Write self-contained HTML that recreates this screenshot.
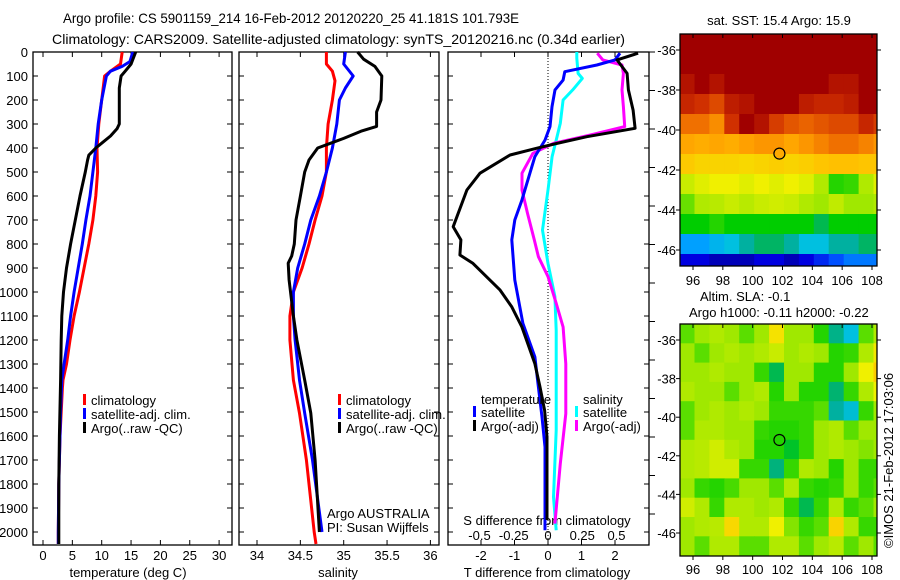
<!DOCTYPE html>
<html><head><meta charset="utf-8"><style>
html,body{margin:0;padding:0;background:#fff;}
svg{display:block;font-family:"Liberation Sans",Arial,sans-serif;}
text{font-size:13px;fill:#000;}
</style></head><body>
<svg id="chart" width="900" height="580" viewBox="0 0 900 580" xmlns="http://www.w3.org/2000/svg">
<rect width="900" height="580" fill="#fff"/>
<text x="63" y="23" textLength="456" lengthAdjust="spacingAndGlyphs" style="font-size:14px">Argo profile: CS 5901159_214 16-Feb-2012 20120220_25 41.181S 101.793E</text>
<text x="52" y="44" textLength="573" lengthAdjust="spacingAndGlyphs" style="font-size:14px">Climatology: CARS2009. Satellite-adjusted climatology: synTS_20120216.nc (0.34d earlier)</text>
<g id="p1"></g>
<g id="p2"></g>
<g id="p3"></g>
<g id="m1"></g>
<g id="m2"></g>
<text x="779" y="25" text-anchor="middle">sat. SST: 15.4  Argo: 15.9</text>
<text x="700" y="301">Altim. SLA: -0.1</text>
<text x="689" y="317">Argo h1000: -0.11 h2000: -0.22</text>
<text transform="translate(893,548) rotate(-90)">©IMOS 21-Feb-2012 17:03:06</text>
</svg>
<script>
// ---- data ----
const depthTicks=[0,100,200,300,400,500,600,700,800,900,1000,1100,1200,1300,1400,1500,1600,1700,1800,1900,2000];
const tempTicks=[0,5,10,15,20,25,30];
const salTicks=[34,34.5,35,35.5,36];
const dTTicks=[-2,-1,0,1,2];
const dSTicks=[-0.5,-0.25,0,0.25,0.5];
const dSTickLabels=["-0.5","-0.25","0","0.25","0.5"];
const lonTicks=[96,98,100,102,104,106,108];
const latTicks=[-36,-38,-40,-42,-44,-46];

const tClimD=[0,50,80,100,200,300,400,500,600,700,800,900,1000,1100,1200,1300,1367,1400,1500,1600,1700,1800,2000,2050];
const tClimV=[13.5,13.2,11.5,10.5,10,9.5,9.2,9.3,9.0,8.5,7.8,7.0,6.2,5.3,4.6,4.0,3.4,3.3,3.1,2.9,2.8,2.7,2.6,2.6];
const tSatD=[0,40,60,80,100,200,300,400,500,600,700,800,900,1000,1100,1200,1300,1367,1500,1600,1800,2000,2050];
const tSatV=[15.3,14.8,13.5,11.5,10.8,10.0,9.4,9.0,8.5,8.0,7.3,6.7,6.0,5.3,4.7,4.2,3.6,3.2,3.0,2.9,2.7,2.6,2.6];
const tArgoD=[0,50,80,100,150,200,300,320,350,380,400,430,450,500,600,700,800,900,1000,1100,1200,1367,1600,1800,2000,2050];
const tArgoV=[15.8,15,14,13.3,13,13,13,12.6,11.5,10,9.0,7.8,7.6,7.2,6.3,5.5,4.7,4.0,3.5,3.2,3.1,3.0,2.8,2.7,2.7,2.7];

const sClimD=[0,50,80,120,200,300,400,500,600,700,800,900,1000,1100,1200,1367,1505,1700,2000,2050];
const sClimV=[34.8,34.8,34.87,34.9,34.87,34.82,34.8,34.8,34.75,34.67,34.6,34.52,34.42,34.38,34.38,34.42,34.49,34.57,34.66,34.68];
const sSatD=[0,50,100,150,200,300,400,500,600,700,800,900,1000,1100,1200,1367,1505,1700,2000];
const sSatV=[35.02,35.0,35.11,35.02,34.95,34.92,34.87,34.8,34.72,34.62,34.55,34.47,34.42,34.42,34.44,34.49,34.55,34.64,34.75];
const sArgoD=[0,30,60,100,200,250,310,330,360,380,400,450,500,600,700,800,850,880,950,1100,1200,1367,1505,1700,2000];
const sArgoV=[35.16,35.23,35.36,35.44,35.43,35.38,35.38,35.2,35.0,34.85,34.7,34.6,34.55,34.5,34.45,34.43,34.4,34.36,34.37,34.42,34.46,34.55,34.62,34.67,34.72];

const dTArgoD=[5,33,89,158,242,318,353,381,401,429,505,575,728,783,846,881,992,1062,1146,1299,1396,1493,1604,1950];
const dTArgoV=[2.69,2.06,2.36,2.4,2.54,2.6,1.16,0.27,-0.33,-1.13,-2.03,-2.42,-2.83,-2.6,-2.63,-2.24,-1.43,-1.08,-0.78,-0.39,-0.24,-0.1,-0.03,-0.03];
const dTSatD=[5,33,54,82,117,158,228,311,367,436,505,617,700,783,950,1131,1271,1382,1521,1646,1993];
const dTSatV=[2.15,2.0,1.46,0.5,0.45,0.21,0.12,0.06,-0.09,-0.39,-0.54,-0.78,-0.99,-1.08,-0.99,-0.75,-0.39,-0.3,-0.18,-0.09,-0.09];
const dSArgoD=[5,33,54,89,158,228,311,346,381,422,505,575,672,783,853,936,1047,1146,1299,1507,1715,1965];
const dSArgoV=[0.36,0.4,0.54,0.55,0.54,0.55,0.56,0.31,0.04,-0.11,-0.19,-0.19,-0.15,-0.1,-0.07,0,0.06,0.11,0.13,0.13,0.09,0.05];
const dSSatD=[0,26,89,110,158,200,297,367,436,575,742,881,1019,1160,1576,1854,1993];
const dSSatV=[0.21,0.21,0.22,0.25,0.18,0.11,0.09,0.06,0.03,0,-0.04,0,0.05,0.06,0.06,0.04,0.06];

const sstLats=[-35.2,-36.2,-37.2,-38.2,-39.2,-40.2,-41.2,-42.2,-43.2,-44.2,-45.2,-46.2];
const sstLons=[95.1,96.1,97.1,98.1,99.1,100.1,101.1,102.1,103.1,104.1,105.1,106.1,107.1,108.1];
const sstGrid=[
[10,10,10,10,10,10,10,10,10,10,10,10,10,10],
[10,10,10,10,10,10,10,10,10,10,10,10,10,10],
[9.8,10,9.8,10,10,10,10,10,10,10,9.8,9.8,10,10],
[9.6,9.5,9.3,9.7,9.8,10,10,10,9.7,9.6,9.6,9.7,10,10],
[9,9,8.7,9.5,10,9.8,9.4,9.2,9.1,9.2,9.3,9.3,9.6,9.4],
[8.4,8.3,8.4,8.3,8.5,8.6,8.6,8.4,8.6,8.8,9,9,8.8,8.6],
[7.8,7.6,7.6,7.6,7.5,7.6,7.7,7.6,7.7,7.9,8,8,7.9,7.9],
[6.5,6.8,7,7,6.8,7,6.8,7,6.8,6.2,5.2,5.3,6.2,6.8],
[5.6,6.2,6.3,6.5,6.3,6.5,6.6,6.5,6.2,6,6.4,6,6,6.2],
[5,5,5.2,5,5,5,5,5,5,4.6,5,5,5,5],
[3,3,3.3,3.5,4,4.5,4.5,4,3.5,3.5,4,4,4.5,4.5],
[1,1,0.5,0.5,0.5,1,1,0.5,1,1.5,2,2.5,2.5,2.5]];
const slaLats=[-35.17,-36.17,-37.17,-38.17,-39.17,-40.17,-41.17,-42.17,-43.17,-44.17,-45.17,-46.17];
const slaLons=[95.1,96.1,97.1,98.1,99.1,100.1,101.1,102.1,103.1,104.1,105.1,106.1,107.1,108.1];
const slaGrid=[
[5.5,6,6.2,6,5.5,6,7.3,6,6,5.2,4.2,3.5,5.5,6.2],
[6,5.5,6,6.2,6,6.2,6.5,6,6.2,6,5.2,5.3,6.2,7.2],
[6,6,6.2,6,6,5.3,4.6,6,6,5.2,5.2,6,7,7.8],
[6.2,6,6,5.5,6,6.2,5.2,6,5.2,5.2,4.4,5.3,6.2,7],
[5.5,6,6.2,6,6.2,6,5.3,5.3,5.3,5.5,4,3.6,5.3,6],
[5.5,6.2,6.2,6,6,5.3,5.2,5.2,5.3,6,6.2,5.5,6,6],
[6.2,6.3,6.6,6.2,6,5.2,5.2,4.8,5.3,6,6.2,6,5.8,6],
[6.2,6.3,6.6,6.6,5.3,5.3,4.3,5.3,6.2,6,5.2,6,5.3,5.3],
[6,5.3,5.2,5.4,6,6,5.5,6.2,5.3,5.2,5.3,6,5.3,5.5],
[6.6,6.2,5.3,6.2,6.2,6,6.2,5.3,4.6,5.3,6.2,5.3,5.5,6],
[6,6.2,6.3,7.5,6.2,6.2,7,5.8,5.3,5.5,7.6,6.2,5.3,5.3],
[6,5.5,6.2,6.2,5.5,5.5,6.2,6.2,5.5,6,6.3,5.5,6,5.5]];
const argoLon=101.793, argoLat=-41.181;

// ---- helpers ----
const NS="http://www.w3.org/2000/svg";
function mk(parent,tag,attrs){const e=document.createElementNS(NS,tag);for(const k in attrs)e.setAttribute(k,attrs[k]);parent.appendChild(e);return e;}
const yD=d=>52+d*0.24;
const xT=t=>43+t*5.87;
const xS=s=>257+(s-34)*86.7;
const xdT=v=>548+v*33.5;
const xdS=v=>548+v*137;
const TOP=52,BOT=545;

function frame(g,x0,x1,name){
  const r=mk(g,'rect',{x:x0,y:TOP,width:x1-x0,height:BOT-TOP,fill:'none',stroke:'#000','stroke-width':1.3});
  
  
  depthTicks.forEach(d=>{
    mk(g,'line',{x1:x0,x2:x0+5,y1:yD(d),y2:yD(d),stroke:'#000'});
    mk(g,'line',{x1:x1,x2:x1-5,y1:yD(d),y2:yD(d),stroke:'#000'});
  });
}
function xticks(g,vals,fx,labels,ly){
  vals.forEach((v,i)=>{
    const x=fx(v);
    mk(g,'line',{x1:x,x2:x,y1:BOT,y2:BOT-5,stroke:'#000'});
    mk(g,'line',{x1:x,x2:x,y1:TOP,y2:TOP+5,stroke:'#000'});
    const t=mk(g,'text',{x:x,y:ly,'text-anchor':'middle'});
    t.textContent=labels?labels[i]:String(v);
    
    
  });
}
function line(g,D,V,fx,color,name,w){
  const pts=D.map((d,i)=>fx(V[i]).toFixed(1)+','+yD(d).toFixed(1)).join(' ');
  const p=mk(g,'polyline',{points:pts,fill:'none',stroke:color,'stroke-width':w||3,'stroke-linejoin':'round'});
  
  
}
function legend(g,x,y,color,label,name){
  const b=mk(g,'rect',{x:x,y:y-6,width:3,height:11,fill:color});
  
  
  const t=mk(g,'text',{x:x+8,y:y+5});
  t.textContent=label;
  
  
}
function txt(g,x,y,s,anchor,name){
  const t=mk(g,'text',{x:x,y:y,'text-anchor':anchor||'start'});
  t.textContent=s;
  
  
  return t;
}

// ---- panel 1 ----
const p1=document.getElementById('p1');
frame(p1,33,232,'temperature');
depthTicks.forEach(d=>{txt(p1,28,yD(d)+5,String(d),'end','y-tick-label');});
xticks(p1,tempTicks,xT,null,560);
txt(p1,128,577,'temperature (deg C)','middle','x-axis-title');
line(p1,tClimD,tClimV,xT,'#ff0000','climatology-temperature-line');
line(p1,tSatD,tSatV,xT,'#0000ff','satellite-temperature-line');
line(p1,tArgoD,tArgoV,xT,'#000000','argo-temperature-line');
legend(p1,83,400,'#ff0000','climatology','legend-climatology');
legend(p1,83,414,'#0000ff','satellite-adj. clim.','legend-satellite');
legend(p1,83,428,'#000000','Argo(..raw -QC)','legend-argo');

// ---- panel 2 ----
const p2=document.getElementById('p2');
frame(p2,239,439,'salinity');
xticks(p2,salTicks,xS,null,560);
txt(p2,338,577,'salinity','middle','x-axis-title');
line(p2,sClimD,sClimV,xS,'#ff0000','climatology-salinity-line');
line(p2,sSatD,sSatV,xS,'#0000ff','satellite-salinity-line');
line(p2,sArgoD,sArgoV,xS,'#000000','argo-salinity-line');
legend(p2,338,400,'#ff0000','climatology','legend-climatology');
legend(p2,338,414,'#0000ff','satellite-adj. clim.','legend-satellite');
legend(p2,338,428,'#000000','Argo(..raw -QC)','legend-argo');
txt(p2,327,518,'Argo AUSTRALIA','start','argo-country');
txt(p2,327,532,'PI: Susan Wijffels','start','argo-pi');

// ---- panel 3 ----
const p3=document.getElementById('p3');
mk(p3,'line',{x1:548,x2:548,y1:TOP,y2:BOT,stroke:'#000','stroke-dasharray':'1,2'});
frame(p3,448,649,'difference');
for(let k=0;k<13;k++){mk(p3,'line',{x1:649,x2:655,y1:52+k*38.5,y2:52+k*38.5,stroke:'#000'});}
xticks(p3,dTTicks,xdT,null,560);
dSTicks.forEach((v,i)=>{txt(p3,xdS(v),540,dSTickLabels[i],'middle','s-tick-label');});
txt(p3,547,525,'S difference from climatology','middle','s-axis-title');
txt(p3,547,577,'T difference from climatology','middle','t-axis-title');
line(p3,dSSatD,dSSatV,xdS,'#00ffff','salinity-satellite-diff-line');
line(p3,dSArgoD,dSArgoV,xdS,'#ff00ff','salinity-argo-diff-line');
line(p3,dTSatD,dTSatV,xdT,'#0000ff','temperature-satellite-diff-line');
line(p3,dTArgoD,dTArgoV,xdT,'#000000','temperature-argo-diff-line');
txt(p3,481,404,'temperature','start','legend-temperature-heading');
legend(p3,473,412,'#0000ff','satellite','legend-temp-satellite');
legend(p3,473,426,'#000000','Argo(-adj)','legend-temp-argo');
txt(p3,583,404,'salinity','start','legend-salinity-heading');
legend(p3,575,412,'#00ffff','satellite','legend-sal-satellite');
legend(p3,575,426,'#ff00ff','Argo(-adj)','legend-sal-argo');

// ---- maps ----
const stops=[[0,[0,0,144]],[1,[0,0,224]],[2,[0,80,255]],[3,[0,160,255]],[3.5,[0,192,224]],[4,[0,176,160]],[4.5,[0,180,100]],[5,[0,205,0]],[5.5,[90,222,0]],[6,[160,232,0]],[7,[240,240,0]],[8,[255,192,0]],[8.5,[255,160,0]],[9,[240,112,0]],[9.5,[208,48,0]],[10,[160,0,0]]];
function cmap(v){
  for(let i=1;i<stops.length;i++){
    if(v<=stops[i][0]){const a=stops[i-1],b=stops[i],f=(v-a[0])/(b[0]-a[0]);
      const c=a[1].map((x,j)=>Math.round(x+(b[1][j]-x)*f));return 'rgb('+c.join(',')+')';}
  }
  return 'rgb(160,0,0)';
}
function drawMap(id,y0,y1,lat36,pxLat,lats,lons,grid,circleFill,tickLabelY){
  const g=document.getElementById(id);
  const x0=680,x1=877;
  const lx=l=>693+(l-96)*14.917;
  const ly=l=>lat36+(-36-l)*pxLat;
  const cp=mk(g,'clipPath',{id:id+'clip'});
  mk(cp,'rect',{x:x0,y:y0,width:x1-x0,height:y1-y0});
  const cells=mk(g,'g',{'clip-path':'url(#'+id+'clip)'});
  grid.forEach((row,r)=>row.forEach((v,c)=>{
    const xa=lx(lons[c]),ya=ly(lats[r]);
    const rc=mk(cells,'rect',{x:xa.toFixed(1),y:ya.toFixed(1),width:(lx(lons[c]+1)-xa+0.6).toFixed(1),height:(ly(lats[r]-1)-ya+0.6).toFixed(1),fill:cmap(v)});
    
    
  }));
  const fr=mk(g,'rect',{x:x0,y:y0,width:x1-x0,height:y1-y0,fill:'none',stroke:'#000','stroke-width':1.3});
  
  
  lonTicks.forEach(l=>{
    const x=lx(l);
    mk(g,'line',{x1:x,x2:x,y1:y0,y2:y0+4,stroke:'#000'});
    mk(g,'line',{x1:x,x2:x,y1:y1,y2:y1+4,stroke:'#000'});
    txt(g,x,tickLabelY,String(l),'middle','lon-tick-label');
  });
  latTicks.forEach(l=>{
    const y=ly(l);
    mk(g,'line',{x1:x0,x2:x0-4,y1:y,y2:y,stroke:'#000'});
    mk(g,'line',{x1:x1,x2:x1+4,y1:y,y2:y,stroke:'#000'});
    txt(g,676,y+5,String(l),'end','lat-tick-label');
  });
  const c=mk(g,'circle',{cx:lx(argoLon),cy:ly(argoLat),r:5.5,fill:circleFill,stroke:'#000','stroke-width':1.2});
  
  
}
drawMap('m1',34,266,50,20,sstLats,sstLons,sstGrid,'rgb(255,170,0)',285);
drawMap('m2',324,556,340,19.3,slaLats,slaLons,slaGrid,'none',574);
</script>
</body></html>
